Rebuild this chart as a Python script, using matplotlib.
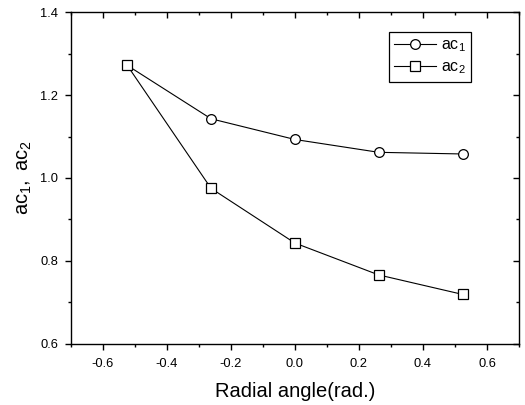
import numpy as np
import matplotlib
matplotlib.use("Agg")
import matplotlib.pyplot as plt

plt.rcParams['font.family'] = ['Liberation Sans', 'DejaVu Sans']
plt.rcParams['mathtext.fontset'] = 'custom'
plt.rcParams['mathtext.rm'] = 'Liberation Sans'
plt.rcParams['mathtext.it'] = 'Liberation Sans'

angles = [-0.5236, -0.2618, 0.0, 0.2618, 0.5236]
ac1 = [1.272, 1.143, 1.093, 1.062, 1.058]
ac2 = [1.272, 0.975, 0.843, 0.766, 0.719]

fig = plt.figure(figsize=(5.25, 4.05), dpi=100)
ax = fig.add_axes([0.1347, 0.1514, 0.8539, 0.8182])

ax.plot(angles, ac1, color='black', lw=0.8, marker='o', ms=7,
        mfc='white', mec='black', mew=0.9, label=r'$\mathregular{ac_1}$')
ax.plot(angles, ac2, color='black', lw=0.8, marker='s', ms=6.8,
        mfc='white', mec='black', mew=0.9, label=r'$\mathregular{ac_2}$')

ax.set_xlim(-0.7, 0.7)
ax.set_ylim(0.6, 1.4)
ax.set_xticks([-0.6, -0.4, -0.2, 0.0, 0.2, 0.4, 0.6])
ax.set_xticks(np.arange(-0.7, 0.71, 0.1), minor=True)
ax.set_yticks([0.6, 0.8, 1.0, 1.2, 1.4])
ax.set_yticks(np.arange(0.6, 1.41, 0.1), minor=True)
ax.set_xticklabels(['-0.6', '-0.4', '-0.2', '0.0', '0.2', '0.4', '0.6'])
ax.set_yticklabels(['0.6', '0.8', '1.0', '1.2', '1.4'])

for s in ax.spines.values():
    s.set_linewidth(1.0)

ax.tick_params(which='major', direction='out', length=4.3, width=1.0,
               labelsize=9.3, pad=4.5)
ax.tick_params(axis='x', which='major', pad=6)
ax.tick_params(which='minor', direction='out', length=2.2, width=1.0)
ax.tick_params(which='both', top=True, right=True)
for t in ax.xaxis.get_major_ticks() + ax.xaxis.get_minor_ticks():
    t.tick2line.set_marker(3)  # inward from top
for t in ax.yaxis.get_major_ticks() + ax.yaxis.get_minor_ticks():
    t.tick2line.set_marker(0)  # inward from right

ax.set_xlabel('Radial angle(rad.)', fontsize=14.5, labelpad=9)
ax.set_ylabel(r'$\mathregular{ac_1,\ ac_2}$', fontsize=14.5, labelpad=5)

leg = ax.legend(loc='upper right', bbox_to_anchor=(0.893, 0.94),
                fontsize=11.5, fancybox=False, edgecolor='black',
                framealpha=1, handlelength=2.6, borderpad=0.35,
                labelspacing=0.3, handletextpad=0.3, borderaxespad=0)
leg.get_frame().set_linewidth(0.9)

fig.savefig('out.png', dpi=100)
